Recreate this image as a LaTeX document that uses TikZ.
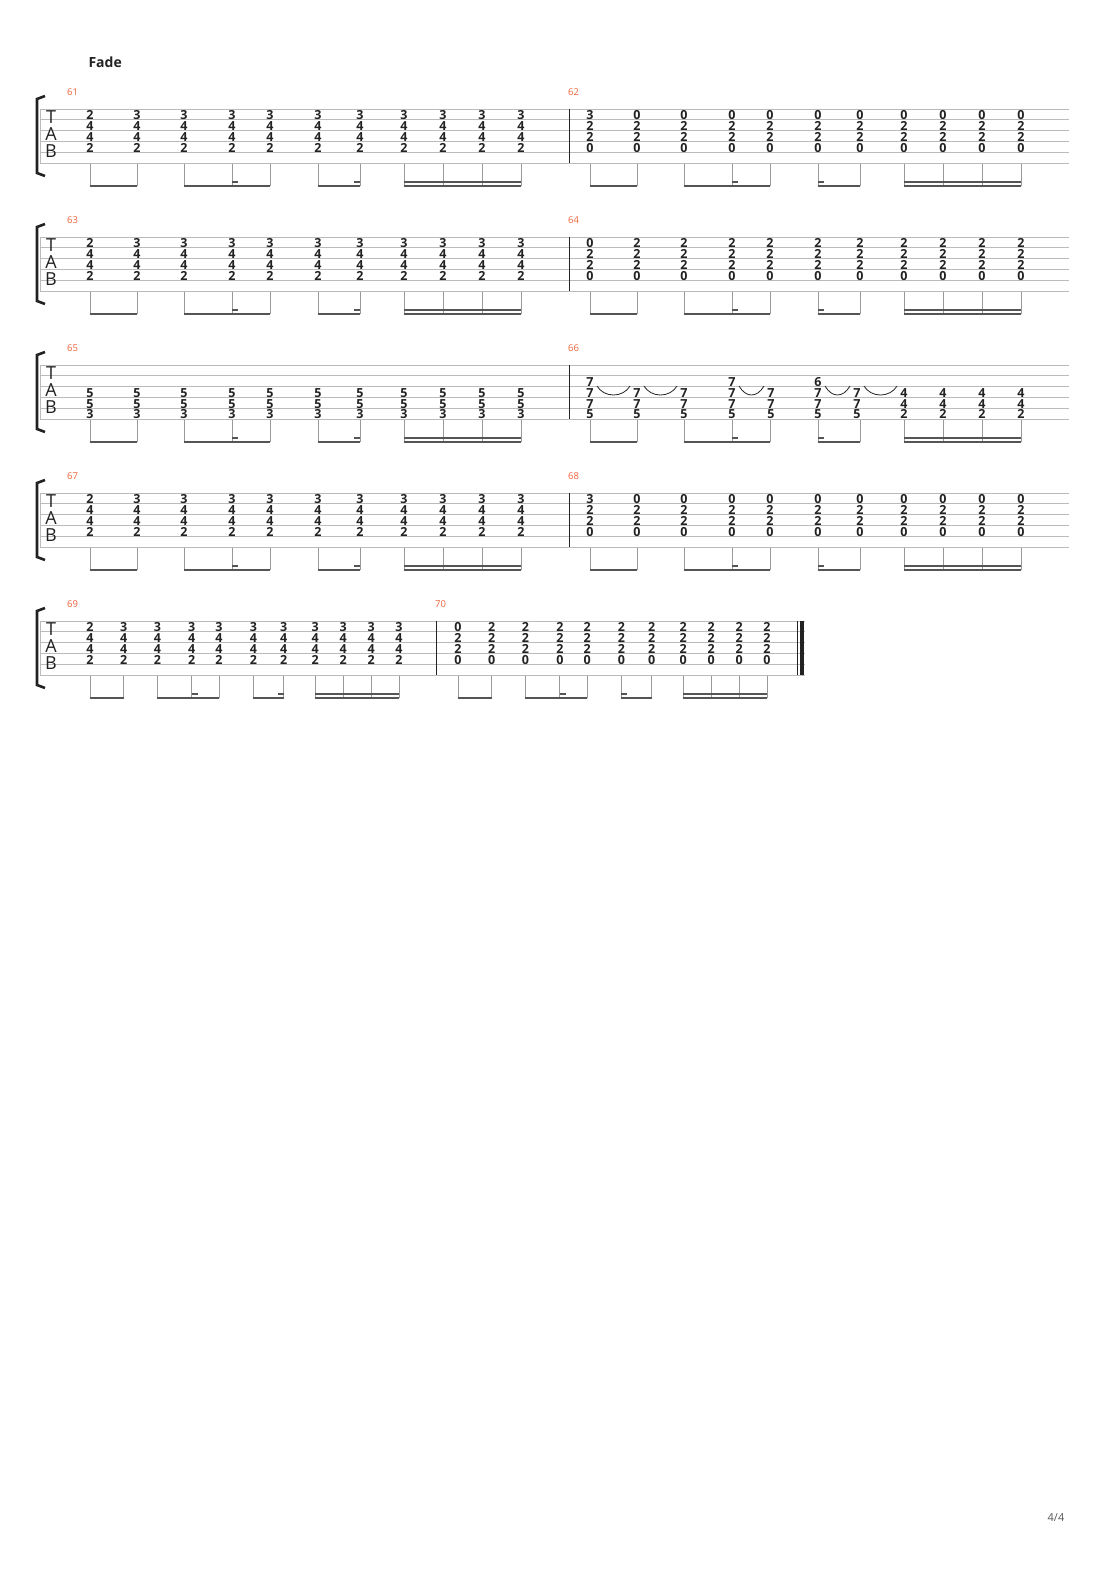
\documentclass[tikz,border=0pt]{standalone}
\usepackage{fontspec}
\setmainfont{Open Sans}
\definecolor{fretink}{HTML}{222222}
\definecolor{lineink}{HTML}{BBBBBB}
\definecolor{stemink}{HTML}{999999}
\definecolor{beamink}{HTML}{555555}
\definecolor{barnum}{HTML}{F0643A}

% one column of fret numbers: x, staff top, list of space/fret
\newcommand\tabcol[3]{\foreach \s/\f in {#3} {\node[fret] at ({#1},{#2+(\s-0.5)*10.8+0.8}) {\f};}}

% eleven chords of a bar: x0, scale, staff top, first chord, other chords
\newcommand\chords[5]{%
  \foreach [count=\i] \o in {0,47,94,142,180,228,270,314,353,392,431} {%
    \ifnum\i=1 \tabcol{#1+#2*\o}{#3}{#4}\else\tabcol{#1+#2*\o}{#3}{#5}\fi}}

% stems and beams of a bar: x0, scale, staff top, stub side (0 left of 7th, 1 right of 6th)
\newcommand\rhythm[4]{%
  \foreach \o in {0,47,94,142,180,228,270,314,353,392,431}
    \draw[stem] ({#1+#2*\o},{#3+55}) -- ({#1+#2*\o},{#3+77});
  \draw[beam] ({#1},{#3+77}) -- ({#1+#2*47},{#3+77});
  \draw[beam] ({#1+#2*94},{#3+77}) -- ({#1+#2*180},{#3+77});
  \draw[beam] ({#1+#2*228},{#3+77}) -- ({#1+#2*270},{#3+77});
  \draw[beam] ({#1+#2*314},{#3+77}) -- ({#1+#2*431},{#3+77});
  \draw[beam] ({#1+#2*314},{#3+73}) -- ({#1+#2*431},{#3+73});
  \draw[beam] ({#1+#2*142},{#3+73}) -- ++(6,0);
  \ifnum#4=0 \draw[beam] ({#1+#2*270},{#3+73}) -- ++(-6,0);
  \else \draw[beam] ({#1+#2*228},{#3+73}) -- ++(6,0);\fi}

% a staff: top, right end, bar line x, first and second bar numbers
\newcommand\staff[5]{%
  \foreach \l in {0,...,5} \draw[staffline] (40,{#1+\l*10.8}) -- (#2,{#1+\l*10.8});
  \draw[staffline] (40,#1) -- (40,{#1+54});
  \draw[barline] (#3,#1) -- (#3,{#1+54});
  \draw[bracket] (45,{#1-13}) -- (37,{#1-10}) -- (37,{#1+64}) -- (45,{#1+67});
  \node[tabletter] at (51,{#1+8}) {T};
  \node[tabletter] at (51,{#1+25}) {A};
  \node[tabletter] at (51,{#1+42}) {B};
  \node[barno, anchor=west] at (67,{#1-17}) {#4};
  \node[barno, anchor=west] at ({#3-1},{#1-17}) {#5};}

\newcommand\tie[3]{\draw[tieline] ({#1+7},{#3}) .. controls ({#1+14},{#3+12}) and ({#2-14},{#3+12}) .. ({#2-7},{#3});}

\begin{document}
\begin{tikzpicture}[
    x=1pt, y=-1pt,
    fret/.style={font=\fontsize{12.5}{12.5}\selectfont\bfseries, text=fretink, inner sep=0pt},
    tabletter/.style={font=\fontsize{18}{18}\selectfont, text=fretink, inner sep=0pt},
    barno/.style={font=\fontsize{9.5}{9.5}\selectfont, text=barnum, inner sep=0pt},
    staffline/.style={draw=lineink, line width=0.7pt},
    barline/.style={draw=fretink, line width=0.9pt},
    bracket/.style={draw=fretink, line width=2.6pt},
    stem/.style={draw=stemink, line width=1pt},
    beam/.style={draw=beamink, line width=2.4pt},
    tieline/.style={draw=fretink, line width=0.8pt},
  ]
  \useasboundingbox (0,0) rectangle (1110,1570);

  \node[font=\fontsize{14}{14}\selectfont\bfseries, text=fretink, anchor=west] (title) at (85,62) {Fade};
  \node[font=\fontsize{11}{11}\selectfont, text=beamink] (page) at (1056,1518) {4/4};

  % bars 61 and 62
  \staff{109}{1069}{569}{61}{62}
  \chords{90}{1}{109}{1/2,2/4,3/4,4/2}{1/3,2/4,3/4,4/2}
  \chords{590}{1}{109}{1/3,2/2,3/2,4/0}{1/0,2/2,3/2,4/0}
  \rhythm{90}{1}{109}{0}
  \rhythm{590}{1}{109}{1}

  % bars 63 and 64
  \staff{237}{1069}{569}{63}{64}
  \chords{90}{1}{237}{1/2,2/4,3/4,4/2}{1/3,2/4,3/4,4/2}
  \chords{590}{1}{237}{1/0,2/2,3/2,4/0}{1/2,2/2,3/2,4/0}
  \rhythm{90}{1}{237}{0}
  \rhythm{590}{1}{237}{1}

  % bars 65 and 66
  \staff{365}{1069}{569}{65}{66}
  \chords{90}{1}{365}{3/5,4/5,5/3}{3/5,4/5,5/3}
  \tabcol{590}{365}{2/7,3/7,4/7,5/5}
  \tabcol{637}{365}{3/7,4/7,5/5}
  \tabcol{684}{365}{3/7,4/7,5/5}
  \tabcol{732}{365}{2/7,3/7,4/7,5/5}
  \tabcol{771}{365}{3/7,4/7,5/5}
  \tabcol{818}{365}{2/6,3/7,4/7,5/5}
  \tabcol{857}{365}{3/7,4/7,5/5}
  \foreach \x in {904,943,982,1021} {\tabcol{\x}{365}{3/4,4/4,5/2}}
  \tie{590}{637}{386}
  \tie{637}{684}{386}
  \tie{732}{771}{386}
  \tie{818}{857}{386}
  \tie{857}{904}{386}
  \rhythm{90}{1}{365}{0}
  \rhythm{590}{1}{365}{1}

  % bars 67 and 68
  \staff{493}{1069}{569}{67}{68}
  \chords{90}{1}{493}{1/2,2/4,3/4,4/2}{1/3,2/4,3/4,4/2}
  \chords{590}{1}{493}{1/3,2/2,3/2,4/0}{1/0,2/2,3/2,4/0}
  \rhythm{90}{1}{493}{0}
  \rhythm{590}{1}{493}{1}

  % bars 69 and 70
  \staff{621}{805}{436}{69}{70}
  \chords{90}{0.717}{621}{1/2,2/4,3/4,4/2}{1/3,2/4,3/4,4/2}
  \chords{458}{0.717}{621}{1/0,2/2,3/2,4/0}{1/2,2/2,3/2,4/0}
  \rhythm{90}{0.717}{621}{0}
  \rhythm{458}{0.717}{621}{1}
  \draw[barline] (797,621) -- (797,675);
  \draw[draw=fretink, line width=4pt] (802,621) -- (802,675);
\end{tikzpicture}
\end{document}
